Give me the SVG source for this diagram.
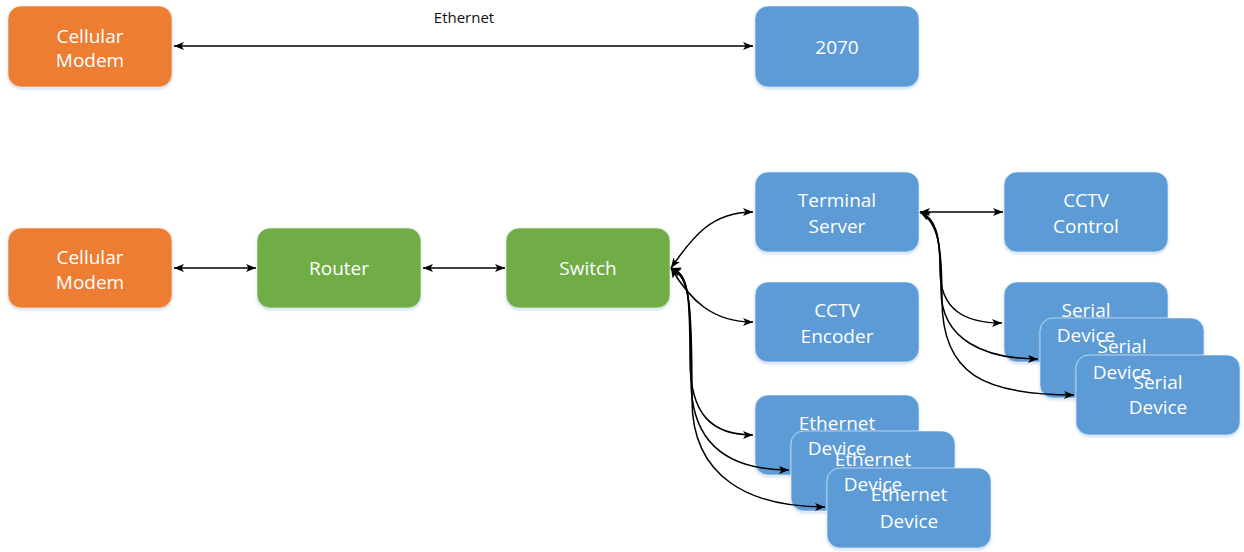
<svg xmlns="http://www.w3.org/2000/svg" width="1244" height="552" viewBox="0 0 1244 552">
<style>
.n{stroke:#ffffff;stroke-opacity:0.55;stroke-width:1;filter:url(#sh)}
.o{fill:#ED7D31}.g{fill:#70AD47}.b{fill:#5B9BD5}
.t{font-family:"Open Sans","Noto Sans",sans-serif;font-size:19px;fill:#ffffff;text-anchor:middle}
.lbl{font-family:"Open Sans","Noto Sans",sans-serif;font-size:15px;fill:#111111;text-anchor:middle}
.c{fill:none;stroke:#000000;stroke-width:1.5;marker-start:url(#ah);marker-end:url(#ah)}
</style>
<defs>
<filter id="sh" x="-10%" y="-10%" width="120%" height="130%">
<feDropShadow dx="0" dy="1.5" stdDeviation="1.5" flood-color="#9dbde0" flood-opacity="0.6"/>
</filter>
<marker id="ah" viewBox="0 0 10 8" refX="10" refY="4" markerWidth="10" markerHeight="8" markerUnits="userSpaceOnUse" orient="auto-start-reverse">
<path d="M0,0 L10,4 L0,8 L2.5,4 z" fill="#000000"/>
</marker>
</defs>
<rect width="1244" height="552" fill="#ffffff"/>
<g id="nodes">
<g id="cellular-modem-1"><rect class="n o" x="8" y="6" width="164" height="81" rx="13"/></g>
<g id="n2070"><rect class="n b" x="755" y="6" width="164" height="81" rx="13"/></g>
<g id="cellular-modem-2"><rect class="n o" x="8" y="228" width="164" height="80" rx="13"/></g>
<g id="router"><rect class="n g" x="257" y="228" width="164" height="80" rx="13"/></g>
<g id="switch"><rect class="n g" x="506" y="228" width="164" height="80" rx="13"/></g>
<g id="terminal-server"><rect class="n b" x="755" y="172" width="164" height="80" rx="13"/></g>
<g id="cctv-encoder"><rect class="n b" x="755" y="282" width="164" height="80" rx="13"/></g>
<g id="ethernet-device-1"><rect class="n b" x="755" y="395" width="164" height="80" rx="13"/></g>
<g id="ethernet-device-2"><rect class="n b" x="791" y="431" width="164" height="80" rx="13"/></g>
<g id="ethernet-device-3"><rect class="n b" x="827" y="468" width="164" height="80" rx="13"/></g>
<g id="cctv-control"><rect class="n b" x="1004" y="172" width="164" height="80" rx="13"/></g>
<g id="serial-device-1"><rect class="n b" x="1004" y="282" width="164" height="80" rx="13"/></g>
<g id="serial-device-2"><rect class="n b" x="1040" y="318" width="164" height="80" rx="13"/></g>
<g id="serial-device-3"><rect class="n b" x="1076" y="355" width="164" height="80" rx="13"/></g>
</g>
<g id="connectors">
<path class="c" d="M174,46 H753"/>
<path class="c" d="M174,268 H256"/>
<path class="c" d="M423,268 H505"/>
<path class="c" d="M671,268 C693,236 712,212 753,212"/>
<path class="c" d="M671,268 C690,300 712,322 753,322"/>
<path class="c" d="M671,268 C688,274 690,290 690,360 C690,415 712,435 753,435"/>
<path class="c" d="M671,268 C689,276 691,295 691,380 C691,445 730,470 789,470"/>
<path class="c" d="M671,268 C690,278 692,300 692,400 C692,478 750,507 825,507"/>
<path class="c" d="M920,212 H1003"/>
<path class="c" d="M920,212 C936,218 940,235 940,270 C940,310 965,323 1002,323"/>
<path class="c" d="M920,212 C937,220 941,240 941,290 C941,340 985,359 1038,359"/>
<path class="c" d="M920,212 C938,222 942,245 942,300 C942,375 985,395 1074,395"/>
<text class="lbl" x="464" y="23">Ethernet</text>
</g>
<g id="labels">
<g id="label-cellular-modem-1"><text class="t" x="90" y="43">Cellular</text><text class="t" x="90" y="67">Modem</text></g>
<g id="label-2070"><text class="t" x="837" y="54">2070</text></g>
<g id="label-cellular-modem-2"><text class="t" x="90" y="264">Cellular</text><text class="t" x="90" y="289">Modem</text></g>
<g id="label-router"><text class="t" x="339" y="275">Router</text></g>
<g id="label-switch"><text class="t" x="588" y="275">Switch</text></g>
<g id="label-terminal-server"><text class="t" x="837" y="207">Terminal</text><text class="t" x="837" y="233">Server</text></g>
<g id="label-cctv-encoder"><text class="t" x="837" y="317">CCTV</text><text class="t" x="837" y="343">Encoder</text></g>
<g id="label-ethernet-device-1"><text class="t" x="837" y="430">Ethernet</text><text class="t" x="837" y="455">Device</text></g>
<g id="label-ethernet-device-2"><text class="t" x="873" y="466">Ethernet</text><text class="t" x="873" y="491">Device</text></g>
<g id="label-ethernet-device-3"><text class="t" x="909" y="501">Ethernet</text><text class="t" x="909" y="528">Device</text></g>
<g id="label-cctv-control"><text class="t" x="1086" y="207">CCTV</text><text class="t" x="1086" y="233">Control</text></g>
<g id="label-serial-device-1"><text class="t" x="1086" y="317">Serial</text><text class="t" x="1086" y="342">Device</text></g>
<g id="label-serial-device-2"><text class="t" x="1122" y="353">Serial</text><text class="t" x="1122" y="379">Device</text></g>
<g id="label-serial-device-3"><text class="t" x="1158" y="389">Serial</text><text class="t" x="1158" y="414">Device</text></g>
</g>
</svg>
